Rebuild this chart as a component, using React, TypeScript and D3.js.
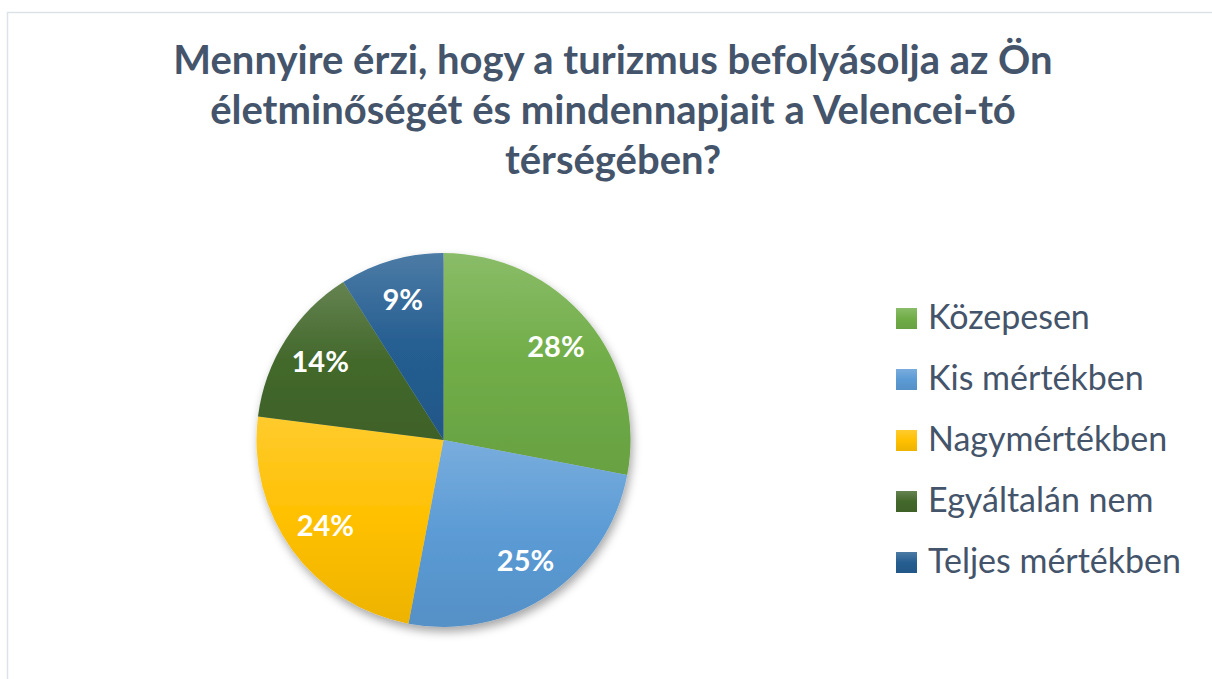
import React from "react";
import * as d3 from "d3";

const categories = ["Közepesen", "Kis mértékben", "Nagymértékben", "Egyáltalán nem", "Teljes mértékben"];
const values = [28, 25, 24, 14, 9];
const colors = ["#70AD47", "#5B9BD5", "#FFC000", "#43682B", "#255E91"];
const titleLines = [
  "Mennyire érzi, hogy a turizmus befolyásolja az Ön",
  "életminőségét és mindennapjait a Velencei-tó",
  "térségében?",
];

const W = 1212;
const H = 679;
const cx = 443.5;
const cy = 440;
const R = 187;
const textColor = "#44546A";
const font = "Lato, 'Open Sans', sans-serif";

export default function App() {
  const pie = d3.pie<number>().sort(null).value((d) => d)(values);
  const arc = d3.arc<d3.PieArcDatum<number>>().innerRadius(0).outerRadius(R);
  const labelArc = d3.arc<d3.PieArcDatum<number>>().innerRadius(146 * 2).outerRadius(0);
  const legendY = d3.scalePoint<string>().domain(categories).range([329, 573]);
  const tint = (c: string, t: number) => d3.interpolateRgb(c, "#ffffff")(t);
  const shade = (c: string, t: number) => d3.interpolateRgb(c, "#000000")(t);
  const total = d3.sum(values);

  return (
    <svg
      width={W}
      height={H}
      style={{ position: "fixed", left: 0, top: 0, display: "block", background: "#fff" }}
    >
      <defs>
        {colors.map((c, i) => (
          <linearGradient key={i} id={`g${i}`} x1="0" y1="0" x2="0" y2="1">
            <stop offset="0" stopColor={tint(c, 0.18)} />
            <stop offset="0.5" stopColor={c} />
            <stop offset="1" stopColor={shade(c, 0.07)} />
          </linearGradient>
        ))}
        <filter id="shadow" x="-20%" y="-20%" width="140%" height="140%">
          <feDropShadow dx="2" dy="5" stdDeviation="5" floodColor="#000" floodOpacity="0.35" />
        </filter>
      </defs>
      <rect x={7.5} y={12.5} width={1220} height={700} fill="#fff" stroke="#DDE2E8" strokeWidth={1.5} />
      <g fontFamily={font} fontWeight={700} fontSize={40} fill={textColor} textAnchor="middle">
        {titleLines.map((t, i) => (
          <text key={i} x={613} y={74 + i * 50}>
            {t}
          </text>
        ))}
      </g>
      <g transform={`translate(${cx},${cy})`}>
        <g filter="url(#shadow)">
          {pie.map((p, i) => (
            <path key={i} d={arc(p) || ""} fill={`url(#g${i})`} />
          ))}
        </g>
        <g fontFamily={font} fontWeight={700} fontSize={29} fill="#fff" textAnchor="middle">
          {pie.map((p, i) => {
            const [x, y] = labelArc.centroid(p);
            return (
              <text key={i} x={x} y={y} dy="0.35em">
                {`${Math.round((p.data / total) * 100)}%`}
              </text>
            );
          })}
        </g>
      </g>
      <g fontFamily={font} fontSize={34} fill={textColor}>
        {categories.map((c, i) => (
          <g key={c} transform={`translate(896,${legendY(c)})`}>
            <rect x={0} y={-21} width={21} height={21} fill={`url(#g${i})`} />
            <text x={32} y={0}>
              {c}
            </text>
          </g>
        ))}
      </g>
    </svg>
  );
}
